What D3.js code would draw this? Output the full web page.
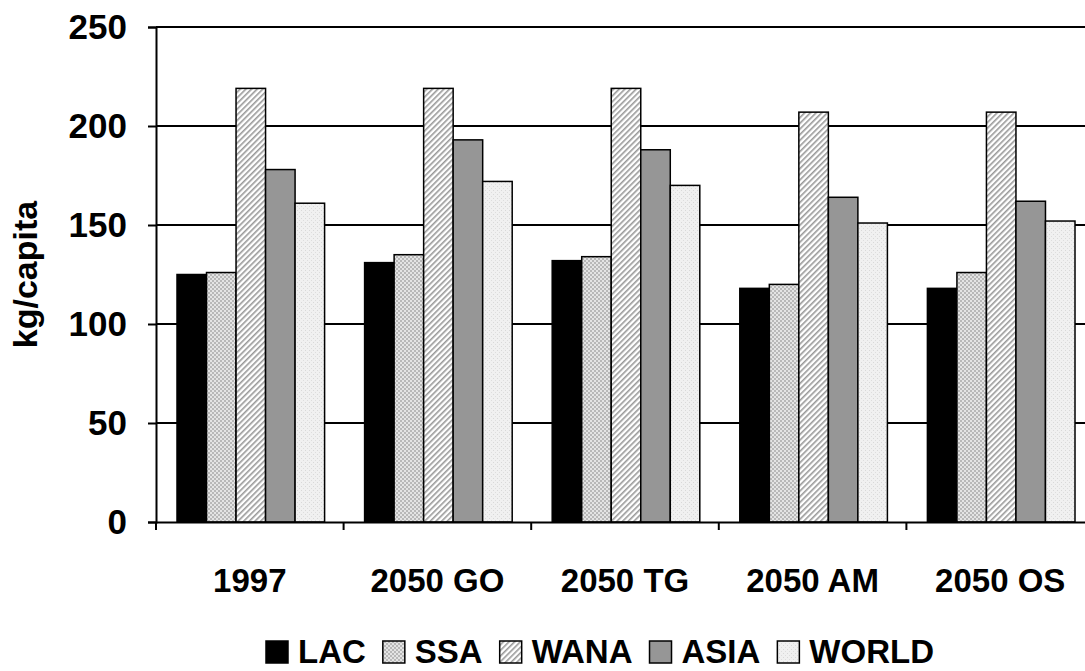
<!DOCTYPE html>
<html><head><meta charset="utf-8">
<script src="https://cdn.jsdelivr.net/npm/d3@7"></script>
<style>body{margin:0;background:#fff}text{font-family:"Liberation Sans",Arial,sans-serif;font-weight:bold}</style>
</head><body><svg id="c" width="1085" height="671"></svg>
<script>
const categories = ['1997', '2050 GO', '2050 TG', '2050 AM', '2050 OS'];
const regions = ['LAC', 'SSA', 'WANA', 'ASIA', 'WORLD'];
const LAC = [125, 131, 132, 118, 118];
const SSA = [126, 135, 134, 120, 126];
const WANA = [219, 219, 219, 207, 207];
const ASIA = [178, 193, 188, 164, 162];
const WORLD = [161, 172, 170, 151, 152];
const series = [LAC, SSA, WANA, ASIA, WORLD];
const yTicks = [0, 50, 100, 150, 200, 250];

const svg = d3.select('#c');
const L = 156, R = 1094, T = 27, B = 522;
const defs = svg.append('defs');
const p1 = defs.append('pattern').attr('id', 'ssa').attr('width', 4).attr('height', 4).attr('patternUnits', 'userSpaceOnUse');
p1.append('rect').attr('width', 4).attr('height', 4).attr('fill', '#e4e4e4');
p1.append('rect').attr('width', 2).attr('height', 2).attr('fill', '#b8b8b8');
p1.append('rect').attr('x', 2).attr('y', 2).attr('width', 2).attr('height', 2).attr('fill', '#b8b8b8');
const p2 = defs.append('pattern').attr('id', 'wana').attr('width', 4).attr('height', 4).attr('patternUnits', 'userSpaceOnUse').attr('patternTransform', 'rotate(45)');
p2.append('rect').attr('width', 4).attr('height', 4).attr('fill', '#fff');
p2.append('rect').attr('width', 1.6).attr('height', 4).attr('fill', '#999');
const p3 = defs.append('pattern').attr('id', 'world').attr('width', 4).attr('height', 4).attr('patternUnits', 'userSpaceOnUse');
p3.append('rect').attr('width', 4).attr('height', 4).attr('fill', '#f0f0f0');
p3.append('rect').attr('x', 1).attr('y', 2).attr('width', 1).attr('height', 1).attr('fill', '#d8d8d8');
p3.append('rect').attr('x', 3).attr('y', 0).attr('width', 1).attr('height', 1).attr('fill', '#dddddd');
const fills = ['#000', 'url(#ssa)', 'url(#wana)', '#969696', 'url(#world)'];

const x = d3.scaleBand().domain(categories).range([L, R]);
const xi = d3.scaleBand().domain(regions).range([21, x.bandwidth() - 19]);
const y = d3.scaleLinear().domain([0, 250]).range([B, T]);

svg.append('g').selectAll('line').data(yTicks.slice(1)).enter().append('line')
  .attr('x1', L).attr('x2', R).attr('y1', d => y(d)).attr('y2', d => y(d))
  .attr('stroke', '#000').attr('stroke-width', 2);

series.forEach((s, k) => {
  svg.append('g').selectAll('rect').data(s).enter().append('rect')
    .attr('x', (d, i) => x(categories[i]) + xi(regions[k]))
    .attr('y', d => y(d)).attr('width', xi.bandwidth()).attr('height', d => B - y(d))
    .attr('fill', fills[k]).attr('stroke', '#000').attr('stroke-width', 1.5);
});

const ya = svg.append('g').attr('transform', `translate(${L},0)`)
  .call(d3.axisLeft(y).tickValues(yTicks).tickSize(8).tickPadding(21));
ya.select('.domain').attr('stroke-width', 2);
ya.selectAll('line').attr('stroke-width', 2);
ya.selectAll('text').style('font-size', '35px').attr('fill', '#000');

const xa = svg.append('g').attr('transform', `translate(0,${B})`)
  .call(d3.axisBottom(x).tickSize(0).tickPadding(47));
xa.select('.domain').attr('stroke-width', 2);
xa.selectAll('text').style('font-size', '33px').attr('fill', '#000');
xa.selectAll('.sep').data(categories.concat(['end'])).enter().append('line')
  .attr('x1', (d, i) => L + i * x.step()).attr('x2', (d, i) => L + i * x.step())
  .attr('y1', 0).attr('y2', 8).attr('stroke', '#000').attr('stroke-width', 2);

svg.append('text').attr('transform', `translate(37,${(T + B) / 2}) rotate(-90)`)
  .attr('text-anchor', 'middle').style('font-size', '34px').text('kg/capita');

const lg = svg.append('g').attr('transform', 'translate(266,663)');
let lx = 0;
regions.forEach((r, k) => {
  lg.append('rect').attr('x', lx).attr('y', -22).attr('width', 22).attr('height', 22)
    .attr('fill', fills[k]).attr('stroke', '#000').attr('stroke-width', 1.5);
  const t = lg.append('text').attr('x', lx + 32).attr('y', 0).style('font-size', '33px').text(r);
  lx += 32 + t.node().getComputedTextLength() + 17;
});
</script></body></html>
